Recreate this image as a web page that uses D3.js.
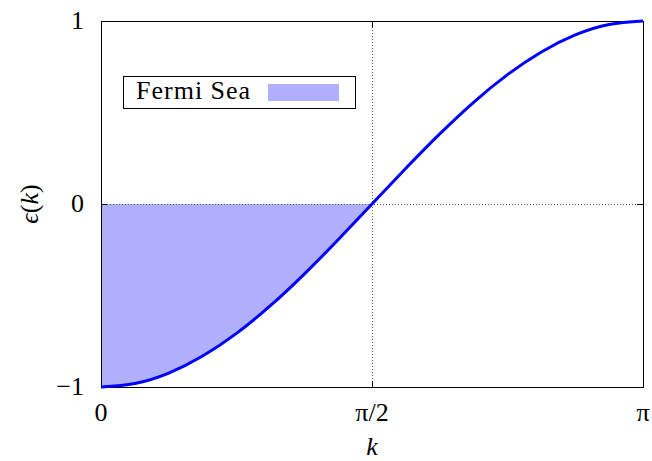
<!DOCTYPE html>
<html>
<head>
<meta charset="utf-8">
<script src="https://cdn.jsdelivr.net/npm/d3@7"></script>
<style>
  html, body { margin: 0; padding: 0; background: #fff; }
</style>
</head>
<body>
<svg id="chart" width="652" height="461"></svg>
<script>
// Band dispersion eps(k), k given in units of pi
const kValues = [0, 0.0625, 0.125, 0.1875, 0.25, 0.3125, 0.375, 0.4375, 0.5,
                 0.5625, 0.625, 0.6875, 0.75, 0.8125, 0.875, 0.9375, 1];
const epsValues = [-1, -0.981, -0.924, -0.831, -0.707, -0.556, -0.383, -0.195, 0,
                   0.195, 0.383, 0.556, 0.707, 0.831, 0.924, 0.981, 1];
// Occupied states: k up to the Fermi point
const fermiK = 0.5;
const fermiLevel = 0;
const xTicks = [0, 0.5, 1];
const xTickLabels = ["0", "\u03C0/2", "\u03C0"];
const yTicks = [-1, 0, 1];
const yTickLabels = ["\u22121", "0", "1"];
const legendLabel = "Fermi Sea";

const FONT = "'Liberation Serif', 'Times New Roman', serif";
const svg = d3.select("#chart");
const m = { left: 101, top: 21, right: 643, bottom: 387 };

const x = d3.scaleLinear().domain([0, 1]).range([m.left, m.right]);
const y = d3.scaleLinear().domain([-1, 1]).range([m.bottom, m.top]);

const pts = kValues.map((k, i) => ({ k, e: epsValues[i] }));
const sea = pts.filter(d => d.k <= fermiK);

// Filled Fermi sea
svg.append("path")
  .datum(sea)
  .attr("fill", "#b0b0ff")
  .attr("d", d3.area().x(d => x(d.k)).y0(y(fermiLevel)).y1(d => y(d.e)).curve(d3.curveNatural));

// Dotted grid lines through the zero axes
const grid = svg.append("g").attr("stroke", "#555").attr("stroke-width", 1).attr("stroke-dasharray", "1,2");
grid.append("line").attr("x1", x(0.5) + 0.5).attr("x2", x(0.5) + 0.5).attr("y1", m.top).attr("y2", m.bottom);
grid.append("line").attr("x1", m.left).attr("x2", m.right).attr("y1", y(0) + 0.5).attr("y2", y(0) + 0.5);

// Frame
svg.append("rect")
  .attr("x", m.left + 0.5).attr("y", m.top + 0.5)
  .attr("width", m.right - m.left).attr("height", m.bottom - m.top)
  .attr("fill", "none").attr("stroke", "#000").attr("stroke-width", 1);

// Inward ticks on all four sides
const tickLen = 6;
const ticks = svg.append("g").attr("stroke", "#000").attr("stroke-width", 1);
xTicks.forEach(t => {
  ticks.append("line").attr("x1", x(t) + 0.5).attr("x2", x(t) + 0.5).attr("y1", m.bottom).attr("y2", m.bottom - tickLen);
  ticks.append("line").attr("x1", x(t) + 0.5).attr("x2", x(t) + 0.5).attr("y1", m.top).attr("y2", m.top + tickLen);
});
yTicks.forEach(t => {
  ticks.append("line").attr("x1", m.left).attr("x2", m.left + tickLen).attr("y1", y(t) + 0.5).attr("y2", y(t) + 0.5);
  ticks.append("line").attr("x1", m.right).attr("x2", m.right - tickLen).attr("y1", y(t) + 0.5).attr("y2", y(t) + 0.5);
});

// Dispersion curve
svg.append("path")
  .datum(pts)
  .attr("fill", "none")
  .attr("stroke", "#0000ff")
  .attr("stroke-width", 3)
  .attr("d", d3.line().x(d => x(d.k)).y(d => y(d.e)).curve(d3.curveNatural));

// Tick labels
svg.append("g").selectAll("text").data(xTicks).join("text")
  .attr("font-family", FONT)
  .attr("x", t => x(t)).attr("y", 421)
  .attr("text-anchor", "middle").attr("font-size", 26)
  .text((t, i) => xTickLabels[i]);
svg.append("g").selectAll("text").data(yTicks).join("text")
  .attr("font-family", FONT)
  .attr("x", 84).attr("y", t => y(t) + 8)
  .attr("text-anchor", "end").attr("font-size", 26)
  .text((t, i) => yTickLabels[i]);

// Axis titles
svg.append("text")
  .attr("font-family", FONT)
  .attr("x", x(0.5)).attr("y", 455)
  .attr("text-anchor", "middle").attr("font-size", 26).attr("font-style", "italic")
  .text("k");
const yt = svg.append("text")
  .attr("font-family", FONT)
  .attr("transform", `translate(38,${y(0)}) rotate(-90)`)
  .attr("text-anchor", "middle").attr("font-size", 26);
yt.append("tspan").attr("font-style", "italic").text("\u03F5");
yt.append("tspan").text("(");
yt.append("tspan").attr("font-style", "italic").text("k");
yt.append("tspan").text(")");

// Legend
const lg = svg.append("g");
lg.append("rect").attr("x", 123.5).attr("y", 76.5).attr("width", 232).attr("height", 32)
  .attr("fill", "#fff").attr("stroke", "#000").attr("stroke-width", 1);
lg.append("text").attr("font-family", FONT).attr("x", 136).attr("y", 99)
  .attr("font-size", 26).attr("letter-spacing", 1).text(legendLabel);
lg.append("rect").attr("x", 268).attr("y", 84).attr("width", 71).attr("height", 17).attr("fill", "#b0b0ff");
</script>
</body>
</html>
